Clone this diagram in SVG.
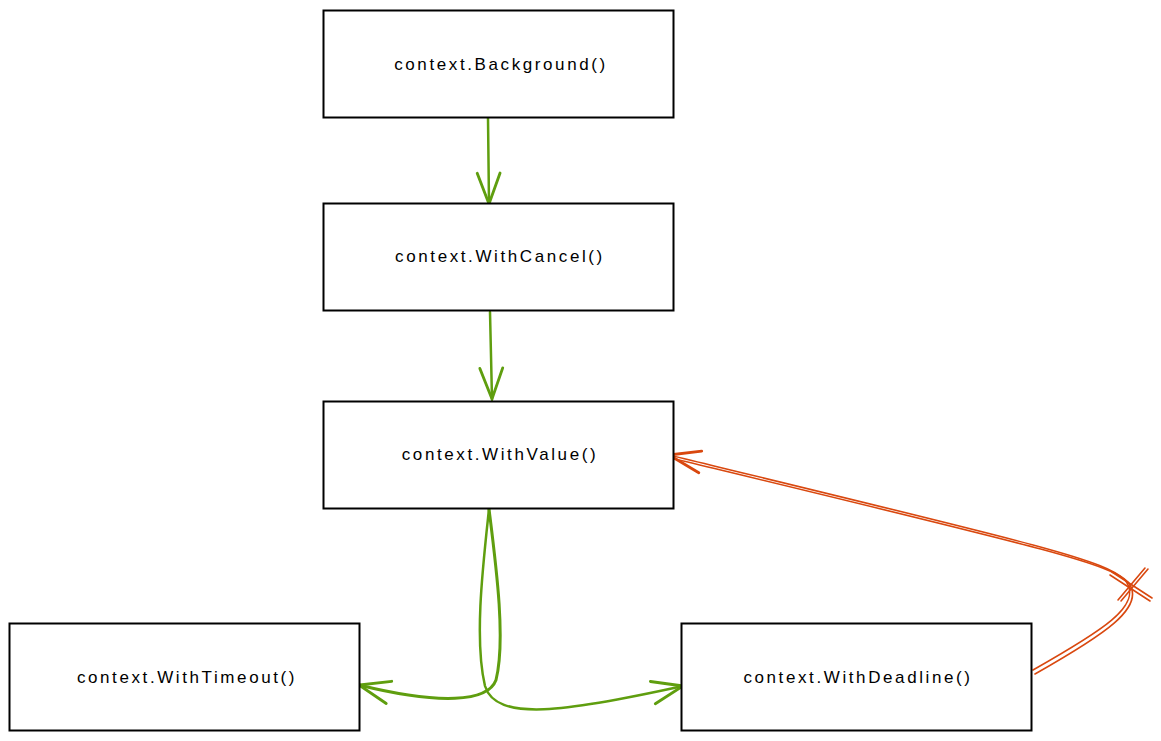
<svg xmlns="http://www.w3.org/2000/svg" width="1161" height="741" viewBox="0 0 1161 741">
<defs>
<style>
.box{fill:#fff;stroke:#000;stroke-width:2}
.lbl{font-family:"Liberation Sans",Arial,sans-serif;font-size:17px;letter-spacing:2.6px;fill:#000;text-anchor:middle;dominant-baseline:central}
.g{fill:none;stroke:#5f9e0f;stroke-width:2.5;stroke-linecap:round}
.r{fill:none;stroke:#d9480f;stroke-width:1.6;stroke-linecap:round}
</style>
<marker id="ag" markerUnits="userSpaceOnUse" markerWidth="40" markerHeight="40" refX="0" refY="0" viewBox="-30 -15 35 30" orient="auto" overflow="visible">
<path d="M-27,-10 L0,0 L-27,10" fill="none" stroke="#5f9e0f" stroke-width="2.5" stroke-linecap="round"/>
</marker>
<marker id="ar" markerUnits="userSpaceOnUse" markerWidth="40" markerHeight="40" refX="0" refY="0" viewBox="-30 -15 35 30" orient="auto" overflow="visible">
<path d="M-29,-9 L0,0 L-27,10" fill="none" stroke="#d9480f" stroke-width="2.5" stroke-linecap="round"/>
</marker>
</defs>
<rect width="1161" height="741" fill="#fff"/>
<g id="connectors">
<path class="g" d="M488,118 L489,204" marker-end="url(#ag)"/>
<path class="g" d="M490,312 L492,399" marker-end="url(#ag)"/>
<path class="g" d="M489,509 C496,565 506,640 496,680 C488,702 440,705 359,685" marker-end="url(#ag)" style="stroke-width:3"/>
<path class="g" d="M489,509 C483,565 474,640 485,686 C496,722 565,712 683,686" marker-end="url(#ag)"/>
<path class="r" d="M1033,670 C1100,632 1145,605 1125,580 C1105,560 1040,545 669,455" marker-end="url(#ar)"/>
<path class="r" d="M1035,674 C1102,636 1148,607 1128,582 C1108,563 1043,548 671,458"/>
<path class="r" d="M1118,600 L1145,568 M1121,601 L1148,569"/>
<path class="r" d="M1112,572 L1152,598 M1110,575 L1150,601"/>
</g>
<g id="n-background">
<rect class="box" x="323.5" y="10.5" width="350" height="107"/>
<text class="lbl" x="501" y="64">context.Background()</text>
</g>
<g id="n-withcancel">
<rect class="box" x="323.5" y="203.5" width="350" height="107"/>
<text class="lbl" x="500" y="256">context.WithCancel()</text>
</g>
<g id="n-withvalue">
<rect class="box" x="323.5" y="401.5" width="350" height="107"/>
<text class="lbl" x="500" y="454">context.WithValue()</text>
</g>
<g id="n-withtimeout">
<rect class="box" x="9.5" y="623.5" width="350" height="107"/>
<text class="lbl" x="187" y="677">context.WithTimeout()</text>
</g>
<g id="n-withdeadline">
<rect class="box" x="681.5" y="623.5" width="350" height="107"/>
<text class="lbl" x="858" y="677">context.WithDeadline()</text>
</g>
</svg>
